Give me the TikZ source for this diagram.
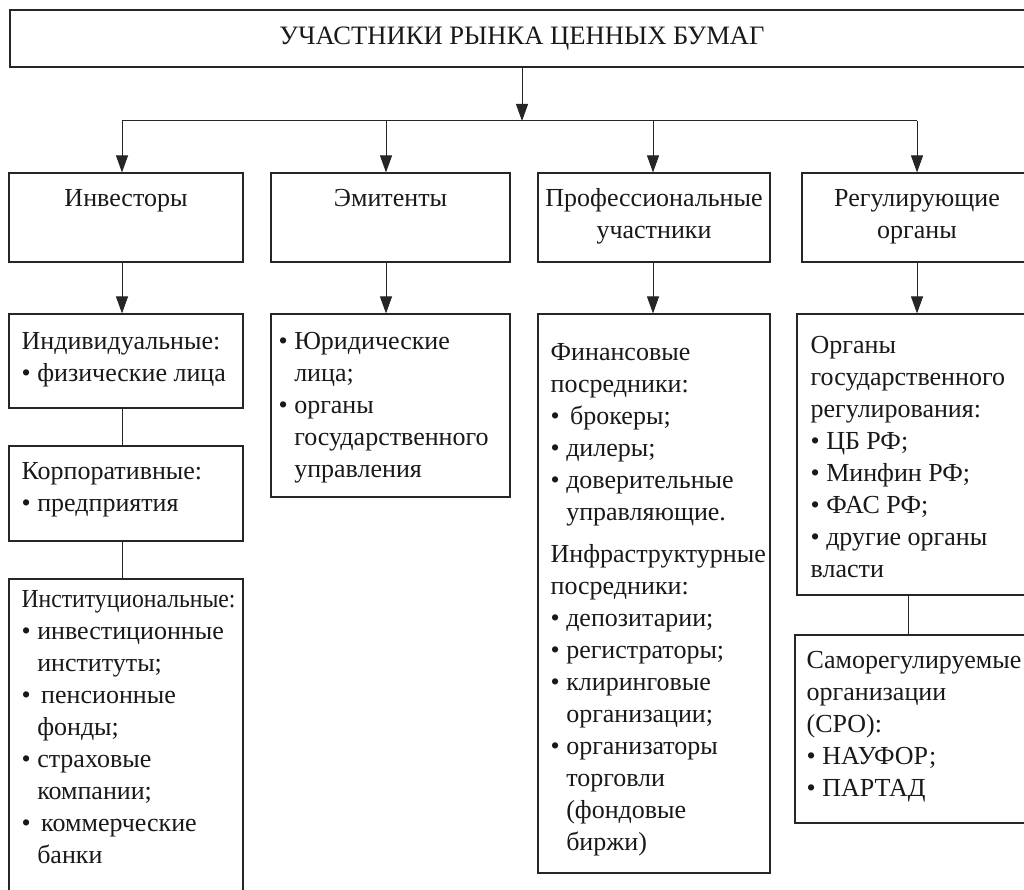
\documentclass[tikz,border=0pt]{standalone}
\usepackage{graphicx}
\usepackage{fontspec}
\setmainfont{Liberation Serif}
\usetikzlibrary{arrows.meta,calc}
\newcommand\hgap{\hphantom{•\ }}
\tikzset{
  box/.style={draw=black!85, line width=1.1pt, rectangle, inner sep=0pt},
  arr/.style={line width=1pt, draw=black!85, -{Triangle[length=17pt,width=12pt]}},
  ln/.style={line width=1pt, draw=black!85},
  txt/.style={inner sep=0pt, anchor=north west, align=left, text=black!90, font=\fontsize{26}{32}\selectfont},
  hdr/.style={inner sep=0pt, anchor=north, align=center, text=black!90, font=\fontsize{26}{32}\selectfont},
}
\begin{document}
\begin{tikzpicture}[x=1pt,y=-1pt]
\useasboundingbox (0,0) rectangle (1024,890);
\fill[white] (0,0) rectangle (1024,890);
\clip (0,0) rectangle (1024,890);
% boxes
\node[box, minimum width=1024pt, minimum height=57pt, text=black!90, font=\fontsize{26.6}{32}\selectfont] (title) at (522,38.5) {УЧАСТНИКИ РЫНКА ЦЕННЫХ БУМАГ};
\node[box, minimum width=234pt, minimum height=89pt] (inv) at (126,217.5) {};
\node[box, minimum width=239pt, minimum height=89pt] (emi) at (390.5,217.5) {};
\node[box, minimum width=232pt, minimum height=89pt] (pro) at (654,217.5) {};
\node[box, minimum width=230pt, minimum height=89pt] (reg) at (917,217.5) {};
\node[box, minimum width=234pt, minimum height=94pt] (ind) at (126,361) {};
\node[box, minimum width=234pt, minimum height=95pt] (korp) at (126,493.5) {};
\node[box, minimum width=234pt, minimum height=321pt] (inst) at (126,739.5) {};
\node[box, minimum width=239pt, minimum height=183pt] (emis) at (390.5,405.5) {};
\node[box, minimum width=232pt, minimum height=559pt] (pros) at (654,593.5) {};
\node[box, minimum width=240pt, minimum height=281pt] (org) at (917,454.5) {};
\node[box, minimum width=245pt, minimum height=188pt] (sro) at (917.5,729) {};
% connector columns
\coordinate (bus) at (522,121);
\coordinate (c1) at (122,0);
\coordinate (c2) at (386,0);
\coordinate (c3) at (653,0);
\coordinate (c4) at (917,0);
\coordinate (c5) at (908,0);
\draw[arr] (title.south) -- (bus);
\draw[ln] (c1 |- bus) -- (c4 |- bus);
\draw[arr] (c1 |- bus) -- (c1 |- inv.north);
\draw[arr] (c2 |- bus) -- (c2 |- emi.north);
\draw[arr] (c3 |- bus) -- (c3 |- pro.north);
\draw[arr] (c4 |- bus) -- (c4 |- reg.north);
\draw[arr] (c1 |- inv.south) -- (c1 |- ind.north);
\draw[arr] (c2 |- emi.south) -- (c2 |- emis.north);
\draw[arr] (c3 |- pro.south) -- (c3 |- pros.north);
\draw[arr] (c4 |- reg.south) -- (c4 |- org.north);
\draw[ln] (c1 |- ind.south) -- (c1 |- korp.north);
\draw[ln] (c1 |- korp.south) -- (c1 |- inst.north);
\draw[ln] (c5 |- org.south) -- (c5 |- sro.north);
% headers
\node[hdr] (tinv) at ($(inv.north)+(0,11.6)$) {\strut Инвесторы};
\node[hdr] (temi) at ($(emi.north)+(0,11.6)$) {\strut Эмитенты};
\node[hdr] (tpro) at ($(pro.north)+(0,11.6)$) {\strut Профессиональные\\участники};
\node[hdr] (treg) at ($(reg.north)+(0,11.6)$) {\strut Регулирующие\\органы};
% contents
\node[txt] (tind) at ($(ind.north west)+(13,13.6)$) {\strut Индивидуальные:\\• физические лица};
\node[txt] (tkorp) at ($(korp.north west)+(13,11.6)$) {\strut Корпоративные:\\• предприятия};
\node[txt] (tinst) at ($(inst.north west)+(13,6.6)$) {\strut\scalebox{0.91}[1]{Институциональные:}\\• инвестиционные\\\hgap институты;\\•\hspace{4pt} пенсионные\\\hgap фонды;\\• страховые\\\hgap компании;\\•\hspace{4pt} коммерческие\\\hgap банки};
\node[txt] (temis) at ($(emis.north west)+(8,13.6)$) {\strut• Юридические\\\hgap лица;\\• органы\\\hgap государственного\\\hgap управления};
\node[txt] (tpros) at ($(pros.north west)+(13,24.6)$) {\strut Финансовые\\посредники:\\•\hspace{4pt} брокеры;\\• дилеры;\\• доверительные\\\hgap управляющие.\\[10pt]Инфраструктурные\\посредники:\\• депозитарии;\\• регистраторы;\\• клиринговые\\\hgap организации;\\• организаторы\\\hgap торговли\\\hgap (фондовые\\\hgap биржи)};
\node[txt] (torg) at ($(org.north west)+(14,17)$) {\strut Органы\\государственного\\регулирования:\\• ЦБ РФ;\\• Минфин РФ;\\• ФАС РФ;\\• другие органы\\власти};
\node[txt] (tsro) at ($(sro.north west)+(12,11.6)$) {\strut Саморегулируемые\\организации\\(СРО):\\• НАУФОР;\\• ПАРТАД};
\end{tikzpicture}
\end{document}
